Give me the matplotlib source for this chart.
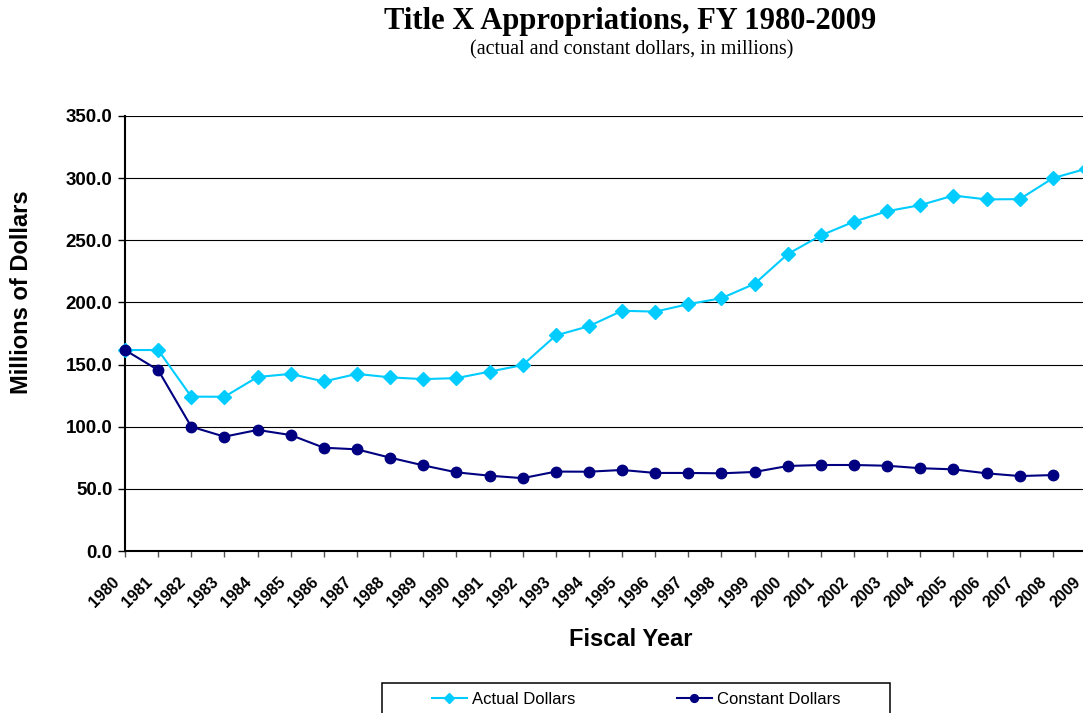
import matplotlib
matplotlib.use("Agg")
import matplotlib.pyplot as plt
from matplotlib.patches import Rectangle
from matplotlib.transforms import ScaledTranslation

years = list(range(1980, 2010))
actual = [161.7, 161.7, 124.2, 124.1, 140.0, 142.5, 136.4, 142.5, 139.7, 138.3,
          139.1, 144.3, 149.6, 173.4, 180.9, 193.3, 192.6, 198.6, 203.4, 215.0,
          238.9, 253.9, 265.0, 273.4, 278.3, 286.0, 282.9, 283.1, 300.0, 307.5]
constant = [161.7, 145.6, 100.0, 92.0, 97.4, 93.3, 83.1, 81.8, 75.1, 68.9,
            63.3, 60.6, 58.6, 63.9, 63.8, 65.2, 62.8, 62.8, 62.5, 63.6,
            68.4, 69.2, 69.2, 68.6, 66.6, 65.7, 62.5, 60.3, 61.1, None]
yticks = [0, 50, 100, 150, 200, 250, 300, 350]

W, H = 1083, 713
fig = plt.figure(figsize=(W / 100, H / 100), dpi=100)
ax = fig.add_axes([125 / W, 1 - 551 / H, (1086 - 125) / W, (551 - 116) / H])

cx = [y for y, v in zip(years, constant) if v is not None]
cv = [v for v in constant if v is not None]
ax.plot(years, actual, color="#00CCFF", marker="D", markersize=7, lw=1.5,
        label="Actual Dollars", clip_on=False, zorder=3)
ax.plot(cx, cv, color="#000080", marker="o", markersize=7.5, lw=1.5,
        label="Constant Dollars", clip_on=False, zorder=4)

ax.set_xlim(1980, 2009)
ax.set_ylim(0, 350)
ax.set_yticks(yticks)
ax.set_yticklabels([f"{v:.1f}" for v in yticks], fontsize=13.5, fontweight="bold",
                   family="Liberation Sans")
ax.set_xticks(years)
ax.set_xticklabels([])
off = ax.get_xaxis_transform() + ScaledTranslation(-8 / 100, -29 / 100,
                                                   fig.dpi_scale_trans)
for y in years:
    ax.text(y, 0, str(y), transform=off, rotation=45, ha="right", va="center",
            rotation_mode="anchor", fontsize=11.5, fontweight="bold",
            family="Liberation Sans", clip_on=False)
ax.tick_params(axis="y", length=5, width=1, pad=4)
ax.tick_params(axis="x", length=4.3, width=1, color="#555555")
ax.grid(axis="y", color="black", lw=0.8)
ax.set_axisbelow(True)
for s in ["top", "right"]:
    ax.spines[s].set_visible(False)
ax.spines["left"].set_linewidth(1.5)
ax.spines["bottom"].set_linewidth(1.5)

fig.text(631 / W, 1 - 640 / H, "Fiscal Year", ha="center", va="center",
         fontsize=17, fontweight="bold", family="Liberation Sans")
fig.text(22 / W, 1 - 292 / H, "Millions of Dollars", ha="center", va="center",
         rotation=90, fontsize=17, fontweight="bold", family="Liberation Sans")

fig.text(630 / W, 1 - 21 / H, "Title X Appropriations, FY 1980-2009",
         ha="center", va="center", fontsize=22, fontweight="bold",
         family="Liberation Serif")
fig.text(632 / W, 1 - 50 / H, "(actual and constant dollars, in millions)",
         ha="center", va="center", fontsize=14.5, family="Liberation Serif")

leg = fig.legend(loc="center", ncol=2, frameon=False,
                 bbox_to_anchor=(636 / W, 1 - 699 / H),
                 prop={"family": "Liberation Sans", "size": 12},
                 handlelength=2.1, handletextpad=0.3, columnspacing=6.1,
                 borderpad=0, borderaxespad=0, markerscale=0.75)
fig.patches.append(Rectangle((382 / W, 1 - 730 / H), 508 / W, 47 / H,
                             transform=fig.transFigure, fill=False,
                             edgecolor="black", lw=1.1))

fig.savefig("out.png", dpi=100)
